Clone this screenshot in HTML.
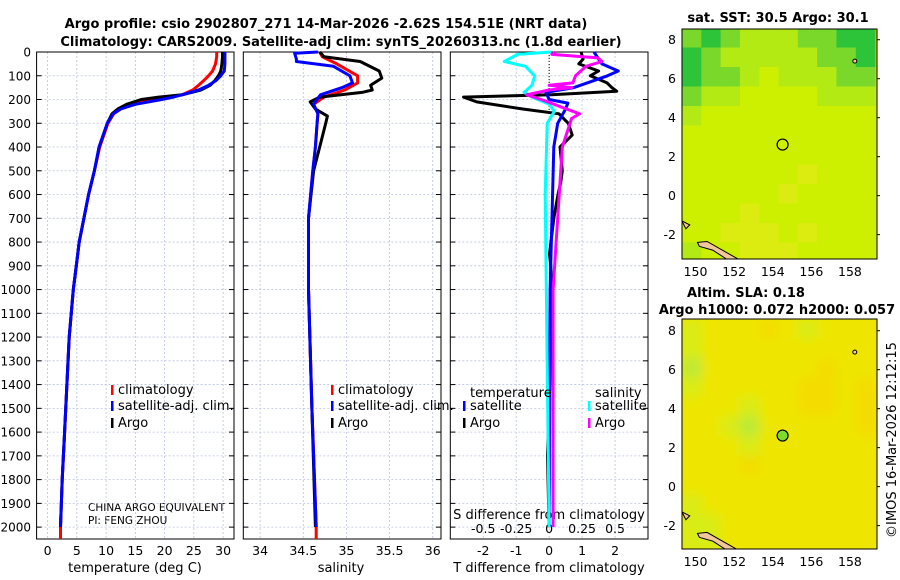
<!DOCTYPE html>
<html><head><meta charset="utf-8"><style>
html,body{margin:0;padding:0;background:#fff;}
svg{display:block;font-family:"DejaVu Sans","Liberation Sans",sans-serif;}
</style></head><body>
<svg id="chart" width="900" height="580" viewBox="0 0 900 580">
<text x="326" y="28" font-size="13" font-weight="bold" text-anchor="middle">Argo profile: csio 2902807_271 14-Mar-2026 -2.62S 154.51E (NRT data)</text>
<text x="341" y="46" font-size="13" font-weight="bold" text-anchor="middle">Climatology: CARS2009. Satellite-adj clim: synTS_20260313.nc (1.8d earlier)</text>
<text x="778" y="22" font-size="13" font-weight="bold" text-anchor="middle">sat. SST: 30.5 Argo: 30.1</text>
<text x="746" y="297" font-size="13" font-weight="bold" text-anchor="middle">Altim. SLA: 0.18</text>
<text x="777" y="314" font-size="13" font-weight="bold" text-anchor="middle">Argo h1000: 0.072 h2000: 0.057</text>
<text x="0" y="0" font-size="13" text-anchor="middle" transform="translate(896,440) rotate(-90)">©IMOS 16-Mar-2026 12:12:15</text>
<text x="135" y="572" font-size="13" text-anchor="middle">temperature (deg C)</text>
<text x="341" y="572" font-size="13" text-anchor="middle">salinity</text>
<text x="549" y="572" font-size="13" text-anchor="middle">T difference from climatology</text>
<text x="549" y="519" font-size="13" text-anchor="middle">S difference from climatology</text>
<text x="88" y="511" font-size="10.5">CHINA ARGO EQUIVALENT</text>
<text x="88" y="524" font-size="10.5">PI: FENG ZHOU</text>
</svg>
<script>
const NS='http://www.w3.org/2000/svg';
const svg=document.getElementById('chart');
function mk(tag,attrs,parent){const e=document.createElementNS(NS,tag);for(const k in attrs)e.setAttribute(k,attrs[k]);(parent||svg).appendChild(e);return e;}

// ---------- data ----------
const depthTicks=[0,100,200,300,400,500,600,700,800,900,1000,1100,1200,1300,1400,1500,1600,1700,1800,1900,2000];
const tempTicks=[0,5,10,15,20,25,30];
const salTicks=[34,34.5,35,35.5,36];
const tdiffTicks=[-2,-1,0,1,2];
const sdiffTicks=[-0.5,-0.25,0,0.25,0.5];
const sdiffLabels=['-0.5','-0.25','0','0.25','0.5'];

const tDepth=[0,20,50,80,100,120,140,160,180,190,200,220,240,260,300,400,500,600,700,800,900,1000,1200,1400,1600,1800,2000];
const tempArgo=[29.9,29.9,29.8,29.6,29.2,28.6,27.8,26.2,23,19,16,13.5,12,11,10.2,8.8,8,7,6.2,5.4,4.9,4.4,3.7,3.3,2.9,2.5,2.2];
const tempClim=[28.9,28.9,28.7,28.2,27.5,26.7,25.8,24.8,23,21,18.5,14.5,12.5,11.3,10.3,8.9,8,7,6.2,5.4,4.9,4.4,3.7,3.3,2.9,2.5,2.2,2.2];
const tempSat=[30.3,30.3,30.3,30.2,29.6,28.8,27.5,25.8,23,21.5,19.5,15,12.5,11.2,10.2,8.8,8,7,6.2,5.4,4.9,4.4,3.7,3.3,2.9,2.5,2.2];

const sArgoDepth=[0,20,40,80,110,140,160,170,190,210,240,270,300,400,500,700,1000,1500,2000];
const salArgo=[34.69,34.74,35.16,35.38,35.41,35.28,35.3,35.18,34.69,34.58,34.64,34.78,34.76,34.69,34.62,34.56,34.56,34.6,34.64];
const sClimDepth=[0,20,50,100,130,160,190,220,260,300,400,500,700,1000,1500,2000,2050];
const salClim=[34.69,34.72,34.89,35.13,35.13,34.98,34.74,34.62,34.67,34.66,34.64,34.61,34.56,34.56,34.6,34.65,34.65];
const sSatDepth=[0,5,30,40,60,100,130,150,180,220,260,300,400,500,700,1000,1500,2000];
const salSat=[34.67,34.4,34.42,34.42,34.85,35.04,35.07,34.95,34.7,34.62,34.67,34.66,34.64,34.61,34.56,34.56,34.6,34.65];

const tdArgoDepth=[0,30,50,80,100,130,150,165,180,190,210,240,260,300,350,400,500,550,600,700,850,900,1000,1400,1700,2000];
const tdiffArgo=[0.97,1.03,0.9,1.5,1.25,1.76,1.9,2.05,0.07,-2.6,-2.2,-0.8,0.3,0.58,0.7,0.33,0.4,0.35,0.27,0.14,0.01,0.05,0.08,0.02,-0.05,0];
const tdSatDepth=[0,30,50,80,100,150,170,200,215,240,300,400,1000,2000];
const tdiffSat=[1.36,1.5,1.6,2.1,1.77,0.75,-0.1,0,0.57,0.5,0.26,0.14,0.03,0];
const sdSatDepth=[0,10,40,60,100,140,170,190,220,250,300,600,2000];
const sdiffSat=[0.016,-0.24,-0.34,-0.18,-0.11,-0.13,-0.19,-0.13,0,0.04,-0.015,-0.03,0];
const sdArgoDepth=[0,10,25,40,60,100,130,140,150,160,180,200,260,280,400,1000,2000];
const sdiffArgo=[0.05,0.02,0.37,0.4,0.28,0.2,0.18,0,0.17,0,-0.17,-0.06,0.23,0.17,0.1,0.03,0.03];

// ---------- axes ----------
const Y0=52,Y1=539,DMAX=2050;
const yD=d=>Y0+(d/DMAX)*(Y1-Y0);
const panels=[
  {name:'temperature',x0:36.6,x1:234,min:-1.88,max:31.86,ticks:tempTicks},
  {name:'salinity',x0:243.3,x1:441,min:33.805,max:36.096,ticks:salTicks},
  {name:'difference',x0:450.3,x1:648,min:-3.0,max:3.0,ticks:tdiffTicks}
];
panels.forEach(p=>{p.sx=v=>p.x0+(v-p.min)/(p.max-p.min)*(p.x1-p.x0);});
const sdx=v=>panels[2].sx(v*4);

panels.forEach((p,pi)=>{
  const g=mk('g',{});
  
  
  depthTicks.forEach(d=>{
    const l=mk('line',{x1:p.x0,x2:p.x1,y1:yD(d),y2:yD(d),stroke:'#b8c4dc','stroke-width':0.8,'stroke-dasharray':'2,2'},g);
    
    
    const t1=mk('line',{x1:p.x0,x2:p.x0+5,y1:yD(d),y2:yD(d),stroke:'#000'},g);
    
    
    const t2=mk('line',{x1:p.x1-5,x2:p.x1,y1:yD(d),y2:yD(d),stroke:'#000'},g);
    
    
  });
  p.ticks.forEach(v=>{
    const x=p.sx(v);
    const l=mk('line',{x1:x,x2:x,y1:Y0,y2:Y1,stroke:'#b8c4dc','stroke-width':0.8,'stroke-dasharray':'2,2'},g);
    
    
    const t=mk('text',{x:x,y:555,'font-size':12.5,'text-anchor':'middle'},g);
    t.textContent=String(v);
    
    
  });
  const r=mk('rect',{x:p.x0,y:Y0,width:p.x1-p.x0,height:Y1-Y0,fill:'none',stroke:'#000','stroke-width':1},g);
  
  
});
depthTicks.forEach(d=>{
  const t=mk('text',{x:31,y:yD(d)+4.5,'font-size':12,'text-anchor':'end'});
  t.textContent=String(d);
  
  
});
sdiffTicks.forEach((v,i)=>{
  const t=mk('text',{x:sdx(v),y:533,'font-size':12.5,'text-anchor':'middle'});
  t.textContent=sdiffLabels[i];
  
  
});
const zl=mk('line',{x1:panels[2].sx(0),x2:panels[2].sx(0),y1:Y0,y2:yD(260),stroke:'#000','stroke-width':1,'stroke-dasharray':'1,2'});



function line(xs,ds,sx,color,name){
  const pts=xs.map((v,i)=>sx(v).toFixed(1)+','+yD(ds[i]).toFixed(1)).join(' ');
  const e=mk('polyline',{points:pts,fill:'none',stroke:color,'stroke-width':3,'stroke-linejoin':'round'});
  
  
}
const P=panels;
line(tempClim,tDepth.concat([2050]),P[0].sx,'#f00','temp-climatology-line');
line(tempArgo,tDepth,P[0].sx,'#000','temp-argo-line');
line(tempSat,tDepth,P[0].sx,'#00f','temp-satellite-line');
line(salClim,sClimDepth,P[1].sx,'#f00','sal-climatology-line');
line(salArgo,sArgoDepth,P[1].sx,'#000','sal-argo-line');
line(salSat,sSatDepth,P[1].sx,'#00f','sal-satellite-line');
line(tdiffArgo,tdArgoDepth,P[2].sx,'#000','tdiff-argo-line');
line(tdiffSat,tdSatDepth,P[2].sx,'#00f','tdiff-satellite-line');
line(sdiffSat,sdSatDepth,sdx,'#0ff','sdiff-satellite-line');
line(sdiffArgo,sdArgoDepth,sdx,'#f0f','sdiff-argo-line');

// legends
function leg(x,y,color,label,name){
  const b=mk('rect',{x:x,y:y-8,width:2.5,height:10,fill:color});
  
  
  const t=mk('text',{x:x+7,y:y+1,'font-size':13});
  t.textContent=label;
  
  
}
leg(111,393,'#f00','climatology','legend-climatology');
leg(111,409,'#00f','satellite-adj. clim.','legend-satellite');
leg(111,426,'#000','Argo','legend-argo');
leg(331,393,'#f00','climatology','legend2-climatology');
leg(331,409,'#00f','satellite-adj. clim.','legend2-satellite');
leg(331,426,'#000','Argo','legend2-argo');
leg(463,409,'#00f','satellite','legend-t-satellite');
leg(463,426,'#000','Argo','legend-t-argo');
leg(588,409,'#0ff','satellite','legend-s-satellite');
leg(588,426,'#f0f','Argo','legend-s-argo');
const lt=mk('text',{x:470,y:397,'font-size':13});
lt.textContent='temperature';


const ls=mk('text',{x:595,y:397,'font-size':13});
ls.textContent='salinity';



// ---------- maps ----------
const lonTicks=[150,152,154,156,158];
const latTicks=[-2,0,2,4,6,8];
const sstGrid=[
 [1,0,1,2,2,2,1,1,0,0],
 [0,1,2,2,2,2,2,1,1,0],
 [0,1,1,2,3,2,2,2,1,1],
 [1,2,2,3,3,3,3,2,2,2],
 [2,3,3,3,3,3,3,3,3,3],
 [3,3,3,3,3,3,3,3,3,3],
 [3,3,3,3,3,3,3,3,3,3],
 [3,3,3,3,3,3,4,3,3,3],
 [3,3,3,3,3,4,3,3,3,3],
 [3,3,3,4,3,3,3,3,3,3],
 [3,3,4,4,4,3,4,3,3,3],
 [2,3,3,4,4,4,3,3,3,3]];
const slaGrid=[
 [1,2,2,2,3,2,1,2,2,2],
 [1,2,2,2,2,2,2,2,2,2],
 [0,2,2,2,2,2,2,3,2,2],
 [1,2,2,2,2,2,3,3,2,3],
 [2,2,2,1,2,2,3,3,2,3],
 [2,2,1,0,2,2,2,2,2,3],
 [2,2,2,1,2,2,2,2,2,2],
 [2,2,2,3,2,2,2,2,2,2],
 [2,2,2,2,2,2,2,2,2,2],
 [1,2,2,2,2,2,2,2,2,2],
 [1,1,2,2,2,2,2,2,2,2],
 [1,1,2,2,2,2,2,2,2,2]];
const sstColors=['#2ec43a','#7ad82a','#b4ea14','#ccf000','#dceb10'];
const slaColors=['#b8ea38','#d8ec14','#eee600','#f4dc00'];
const mapLonMin=149.3,mapLonMax=159.4,gridLatTop=8.6;
const floatLon=154.51,floatLat=2.62;

function drawMap(m){
  const sx=v=>m.x0+(v-mapLonMin)/(mapLonMax-mapLonMin)*(m.x1-m.x0);
  const sy=v=>m.y0+(m.latMax-v)/(m.latMax-m.latMin)*(m.y1-m.y0);
  const g=mk('g',{});
  
  
  const clip=mk('clipPath',{id:m.name+'-clip'},g);
  mk('rect',{x:m.x0,y:m.y0,width:m.x1-m.x0,height:m.y1-m.y0},clip);
  const cg=mk('g',{'clip-path':'url(#'+m.name+'-clip)'},g);
  const bg=mk('rect',{x:m.x0,y:m.y0,width:m.x1-m.x0,height:m.y1-m.y0,fill:m.colors[m.bgIndex]},cg);
  
  
  const ig=mk('g',m.blur?{filter:'url(#blur)'}:{},cg);
  m.grid.forEach((row,r)=>row.forEach((v,c)=>{
    const x=sx(mapLonMin+c),y=sy(gridLatTop-r);
    const cell=mk('rect',{x:x,y:y,width:sx(mapLonMin+c+1)-x+0.5,height:sy(gridLatTop-r-1)-y+0.5,fill:m.colors[v]},ig);
    
    
  }));
  const land=mk('path',{d:`M${sx(150.1)},${sy(-2.4)} L${sx(150.6)},${sy(-2.35)} L${sx(152.2)},${sy(-3.25)} L${sx(151.6)},${sy(-3.25)} L${sx(150.9)},${sy(-2.8)} L${sx(150.2)},${sy(-2.6)} Z`,fill:'#f2c79a',stroke:'#000','stroke-width':1},cg);
  
  
  const land2=mk('path',{d:`M${sx(149.3)},${sy(-1.3)} L${sx(149.7)},${sy(-1.5)} L${sx(149.5)},${sy(-1.7)} Z`,fill:'#f2c79a',stroke:'#000','stroke-width':1},cg);
  
  
  const isl=mk('circle',{cx:sx(158.25),cy:sy(6.9),r:2,fill:'#f2c79a',stroke:'#000','stroke-width':1},cg);
  
  
  const fc=mk('circle',{cx:sx(floatLon),cy:sy(floatLat),r:5.5,fill:m.markerFill,stroke:'#000','stroke-width':1.2},g);
  
  
  const fr=mk('rect',{x:m.x0,y:m.y0,width:m.x1-m.x0,height:m.y1-m.y0,fill:'none',stroke:'#000','stroke-width':1},g);
  
  
  lonTicks.forEach(v=>{
    const t=mk('text',{x:sx(v),y:m.y1+17,'font-size':12.5,'text-anchor':'middle'},g);
    t.textContent=String(v);
    
    
  });
  latTicks.forEach(v=>{
    const t=mk('text',{x:m.x0-6,y:sy(v)+4.5,'font-size':12.5,'text-anchor':'end'},g);
    t.textContent=String(v);
    
    
    const tk=mk('line',{x1:m.x1,x2:m.x1+3,y1:sy(v),y2:sy(v),stroke:'#000'},g);
    
    
  });
}
const defs=mk('defs',{});
const f=mk('filter',{id:'blur',x:'-10%',y:'-10%',width:'120%',height:'120%'},defs);
mk('feGaussianBlur',{stdDeviation:6},f);
drawMap({name:'sst-map',x0:682,x1:877,y0:29,y1:259,latMax:8.55,latMin:-3.25,grid:sstGrid,colors:sstColors,bgIndex:3,markerFill:'none',blur:false});
drawMap({name:'sla-map',x0:682,x1:877,y0:319,y1:549,latMax:8.6,latMin:-3.2,grid:slaGrid,colors:slaColors,bgIndex:2,markerFill:'#7ddc2a',blur:true});
</script>
</body></html>
